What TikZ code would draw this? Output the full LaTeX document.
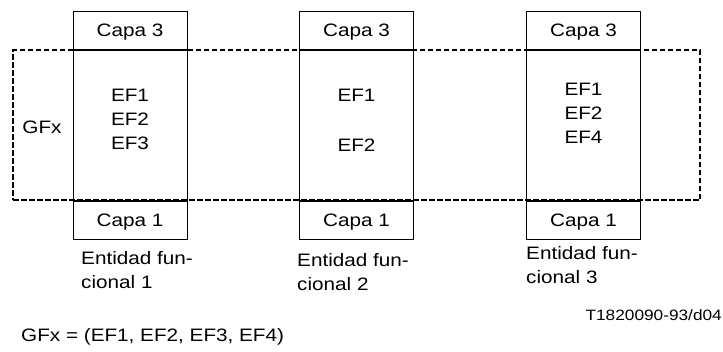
\documentclass[tikz,border=0pt]{standalone}
\usepackage{fontspec}
\setmainfont[FakeStretch=1.15]{Liberation Sans}
\usetikzlibrary{positioning}

\tikzset{
  capa/.style={draw, fill=white, line width=1pt, minimum width=114, minimum height=38, inner sep=0, text height=12.9pt, text depth=0pt},
  cuerpo/.style={draw, line width=1pt, minimum width=114, minimum height=150, inner sep=0},
  ef/.style={inner sep=0, text height=12.9pt, text depth=0pt},
  entidad/.style={inner sep=0, anchor=west, align=left}
}

\begin{document}
\begin{tikzpicture}[x=1pt, y=-1pt, font=\fontsize{18}{24}\selectfont]
\useasboundingbox (0,0) rectangle (723,351);
% grupo funcional GFx
\node[draw, line width=1.4pt, dash pattern=on 5.5pt off 2.5pt, minimum width=687, minimum height=150, inner sep=0] (grupo) at (356.5,125) {};
\node[ef] (gfx) at (42,127) {GFx};
% entidades funcionales
\foreach \x/\n in {130/1, 356.5/2, 583.5/3} {
  \node[cuerpo] (cuerpo\n) at (\x,125) {};
  \node[capa, above=0pt of cuerpo\n] (capatres\n) {Capa 3};
  \node[capa, below=0pt of cuerpo\n] (capauno\n) {Capa 1};
  \draw[line width=1.4pt] (cuerpo\n.north west) -- (cuerpo\n.north east);
  \draw[line width=1.4pt] (cuerpo\n.south west) -- (cuerpo\n.south east);
}
\node[ef] (ef11) at (130,95) {EF1};
\node[ef] (ef12) at (130,119) {EF2};
\node[ef] (ef13) at (130,143) {EF3};
\node[ef] (ef21) at (356.5,95) {EF1};
\node[ef] (ef22) at (356.5,145) {EF2};
\node[ef] (ef31) at (583.5,89) {EF1};
\node[ef] (ef32) at (583.5,113) {EF2};
\node[ef] (ef34) at (583.5,137) {EF4};
% nombres
\node[entidad] (ent1) at (81,270) {Entidad fun-\\cional 1};
\node[entidad] (ent2) at (297,272) {Entidad fun-\\cional 2};
\node[entidad] (ent3) at (526,265) {Entidad fun-\\cional 3};
\node[inner sep=0, anchor=east, font=\fontsize{15}{18}\selectfont] (ref) at (722,315) {T1820090-93/d04};
\node[ef, anchor=west] (def) at (21,335) {GFx = (EF1, EF2, EF3, EF4)};
\end{tikzpicture}
\end{document}
